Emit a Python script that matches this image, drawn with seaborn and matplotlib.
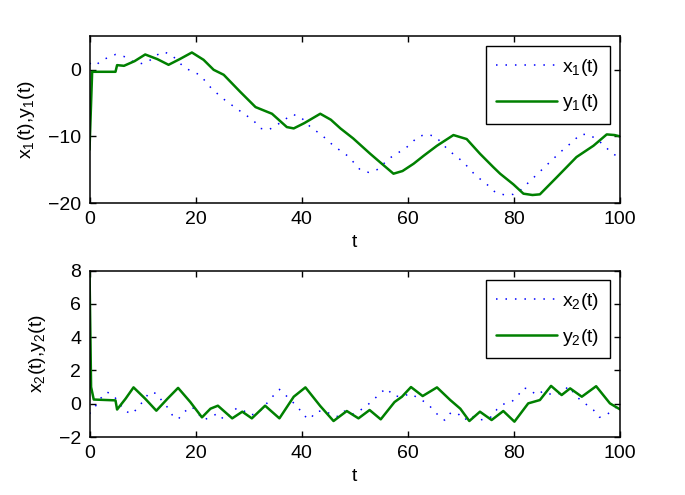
import matplotlib
matplotlib.use("Agg")
import matplotlib.pyplot as plt
import seaborn as sns
import pandas as pd

# estilo
sns.set_style("ticks")
plt.rcParams["font.family"] = ["Liberation Sans", "DejaVu Sans"]
plt.rcParams["mathtext.fontset"] = "custom"
plt.rcParams["mathtext.rm"] = "Liberation Sans"
plt.rcParams["mathtext.it"] = "Liberation Sans"
plt.rcParams["mathtext.default"] = "regular"
plt.rcParams["text.color"] = "black"
plt.rcParams["axes.labelcolor"] = "black"
plt.rcParams["xtick.color"] = "black"
plt.rcParams["ytick.color"] = "black"

# dados - painel de cima
t_y1 = [0, 0.5, 4.9, 5.2, 6.5, 8.5, 10.5, 12.8, 14.9, 17, 19.3, 21.5, 23.4, 25.3,
        28.4, 31.3, 34.4, 37.2, 38.5, 40.5, 43.5, 45.5, 47.3, 49.7, 52.9, 54.8,
        57.3, 59, 61.1, 63, 65.5, 68.6, 71.1, 73.6, 76.1, 77.4, 79.9, 81.8, 83.5,
        84.9, 88, 91.8, 95, 97.5, 99, 100]
y1 = [-12, -0.3, -0.3, 0.7, 0.6, 1.3, 2.3, 1.6, 0.75, 1.6, 2.6, 1.5, 0, -0.75,
      -3.3, -5.6, -6.6, -8.6, -8.8, -8.0, -6.6, -7.5, -8.8, -10.3, -12.6, -13.9,
      -15.6, -15.2, -14.1, -12.9, -11.4, -9.8, -10.4, -12.6, -14.6, -15.6, -17.2,
      -18.6, -18.8, -18.7, -16.2, -13.1, -11.4, -9.7, -9.8, -10.0]

t_x1 = [0, 1, 2.5, 4.9, 6.5, 8, 9.6, 11.2, 12.4, 13.9, 15.4, 17.8, 19.3, 20.8,
        23.1, 25.6, 28.4, 30.9, 32.2, 33.8, 35.3, 36.6, 38.2, 39.7, 41.9, 43.5,
        46, 48.8, 51, 52.6, 54.2, 56.7, 59.7, 62, 63.6, 65.2, 67.7, 70.4, 72.7,
        75.2, 76.5, 78.3, 79.9, 81.2, 83.7, 86.2, 88.7, 91.2, 92.5, 94, 95.6,
        97.2, 98.4, 100]
x1 = [1.0, 0.6, 1.5, 2.3, 2.0, 1.3, 0.9, 1.3, 2.1, 2.7, 2.3, 0.4, -0.25, -0.75,
      -2.9, -4.6, -6.2, -7.6, -8.8, -9.0, -8.3, -7.6, -6.7, -7.0, -8.8, -9.6,
      -11.4, -13.0, -15.0, -15.4, -15.0, -13.2, -11.7, -10.0, -9.7, -10.0, -12.1,
      -13.8, -15.8, -17.4, -18.4, -18.8, -18.7, -18.1, -16.2, -14.3, -12.4,
      -10.7, -9.7, -9.7, -10.4, -11.5, -12.5, -13.2]

# painel de baixo
t_y2 = [0, 0.3, 0.8, 4.9, 5.2, 6.8, 8.3, 10.5, 12.6, 14.7, 16.7, 19, 21.2, 22.8,
        24.2, 26.9, 28.8, 30.6, 33.1, 35.8, 38.5, 40.7, 43.5, 46, 48.5, 50.7,
        52.8, 54.9, 57.5, 58.9, 60.6, 62.8, 65.5, 68, 69.9, 71.6, 73.6, 75.8, 78,
        80.1, 82.7, 84.9, 87, 89, 90.6, 92.8, 95.5, 98.1, 100]
y2 = [8, 1.0, 0.25, 0.2, -0.35, 0.3, 0.98, 0.3, -0.42, 0.3, 0.95, 0.1, -0.82,
      -0.3, -0.12, -0.88, -0.48, -0.88, -0.12, -0.88, 0.42, 0.98, -0.14, -1.04,
      -0.44, -0.88, -0.38, -0.94, 0.1, 0.42, 1.0, 0.46, 0.98, 0.22, -0.3, -1.04,
      -0.48, -0.98, -0.44, -1.08, 0.02, 0.22, 1.07, 0.52, 0.92, 0.42, 1.05, 0.02,
      -0.34]

t_x2 = [0, 0.8, 2.1, 3.3, 4.5, 5.7, 6.6, 8, 9.3, 10.2, 11.3, 12.7, 13.8, 14.7,
        15.6, 16.7, 17.9, 19.3, 20.5, 21.5, 22.8, 24.2, 25.4, 27.7, 28.9, 30.2,
        31.7, 33.5, 34.6, 35.8, 37, 39.4, 40.2, 41.6, 42.6, 44.1, 46.6, 48, 49.2,
        50.8, 52.4, 53.7, 54.9, 56.1, 57.2, 58.7, 60.5, 62.3, 63.8, 64.8, 66, 67,
        68.1, 69.4, 70.7, 71.9, 73.2, 74.6, 75.8, 76.8, 77.9, 79.6, 80.7, 81.8,
        83, 84.2, 85.5, 86.5, 87.9, 89.2, 90.3, 91.4, 92.5, 93.8, 95, 96.1, 97.4,
        98.7, 100]
x2 = [-0.6, -0.3, 0.32, 0.7, 0.5, 0.0, -0.42, -0.62, -0.18, 0.2, 0.68, 0.62, 0.1,
      -0.22, -0.68, -0.94, -0.48, -0.18, -0.6, -0.98, -0.8, -0.58, -0.98, -0.28,
      -0.38, -0.68, -0.6, 0.05, 0.46, 0.86, 0.5, -0.24, -0.68, -0.94, -0.48,
      -0.42, -0.78, -0.44, -0.68, -0.45, -0.08, 0.28, 0.68, 0.92, 0.48, 0.42, 0.6,
      0.28, -0.02, -0.38, -0.78, -1.0, -0.54, -0.58, -0.98, -0.68, -0.98, -0.94,
      -0.78, -0.34, -0.04, 0.12, 0.46, 0.95, 0.86, 0.52, 0.75, 0.6, 0.52, 0.7,
      1.05, 0.6, 0.22, -0.08, -0.38, -0.82, -0.68, -0.38, 0.0]

azul = "#0000ff"
verde = "#008000"
pontilhado = (0, (1, 5.2))

fig = plt.figure(figsize=(6.85, 4.95), dpi=100)
ax1 = fig.add_axes([89.5 / 685, 1 - 203 / 495, 530.5 / 685, 166.5 / 495])
ax2 = fig.add_axes([89.5 / 685, 1 - 437 / 495, 530.5 / 685, 166.5 / 495])

paineis = [
    (ax1, t_x1, x1, t_y1, y1, "1", (-20, 5), [-20, -10, 0]),
    (ax2, t_x2, x2, t_y2, y2, "2", (-2, 8), [-2, 0, 2, 4, 6, 8]),
]

for ax, tx, xv, ty, yv, k, ylim, yticks in paineis:
    df_x = pd.DataFrame({"t": tx, "v": xv})
    df_y = pd.DataFrame({"t": ty, "v": yv})
    sns.lineplot(data=df_x, x="t", y="v", ax=ax, color=azul, linewidth=1.1,
                 linestyle=pontilhado, label=f"x$_{k}$(t)", sort=False)
    sns.lineplot(data=df_y, x="t", y="v", ax=ax, color=verde, linewidth=1.8,
                 label=f"y$_{k}$(t)", sort=False)
    ax.set_xlim(0, 100)
    ax.set_ylim(*ylim)
    ax.set_xticks([0, 20, 40, 60, 80, 100])
    ax.set_yticks(yticks)
    ax.set_yticklabels([str(v).replace("-", "\u2212") for v in yticks])
    ax.tick_params(direction="in", top=True, right=True, length=4.5, width=1,
                   labelsize=14, pad=6)
    for s in ax.spines.values():
        s.set_linewidth(1.1)
        s.set_color("black")
    ax.set_xlabel("t", fontsize=14, labelpad=4)
    ax.set_ylabel(f"x$_{k}$(t),y$_{k}$(t)", fontsize=14, labelpad=8)
    leg = ax.legend(loc="upper right", fontsize=14, handlelength=3.1,
                    fancybox=False, framealpha=1, edgecolor="black",
                    borderaxespad=0.5, borderpad=0.55, labelspacing=0.75,
                    handletextpad=0.3)
    leg.get_frame().set_linewidth(1.0)

fig.savefig("out.png", dpi=100)
